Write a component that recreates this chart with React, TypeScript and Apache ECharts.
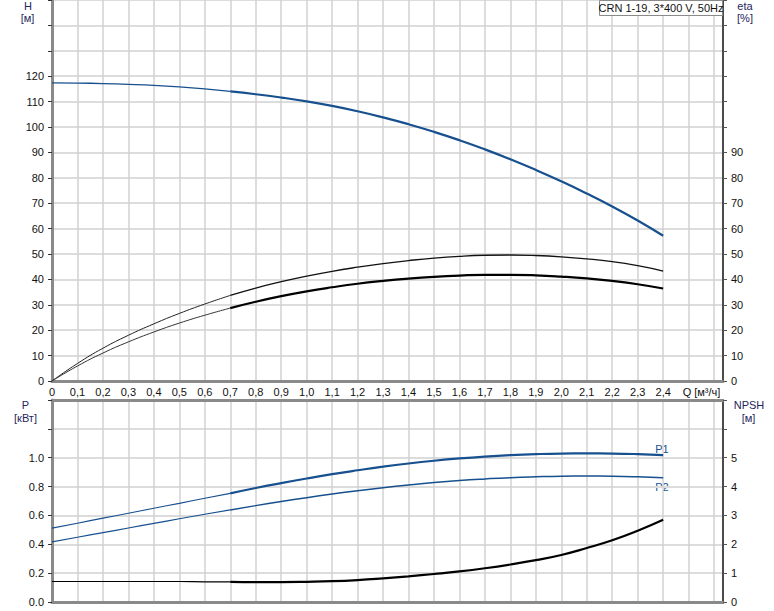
import React, { useEffect, useRef } from "react";
import * as echarts from "echarts";

// Flow (m³/h) – thin section and thick (working) section
const Q_A = [0, 0.1, 0.2, 0.3, 0.4, 0.5, 0.6, 0.7];
const Q_B = [0.7, 0.8, 0.9, 1.0, 1.1, 1.2, 1.3, 1.4, 1.5, 1.6, 1.7, 1.8, 1.9, 2.0, 2.1, 2.2, 2.3, 2.4];

// Head H [m]
const H_A = [117.4, 117.3, 117.1, 116.8, 116.4, 115.8, 115.0, 114.0];
const H_B = [114.0, 112.9, 111.6, 110.1, 108.3, 106.2, 103.8, 101.1, 98.1, 94.8, 91.2, 87.3, 83.1, 78.6, 73.8, 68.7, 63.2, 57.2];

// Efficiency eta [%] (upper and lower curve)
const ETA1_A = [0, 6.9, 12.9, 18.0, 22.5, 26.6, 30.3, 33.7];
const ETA1_B = [33.7, 36.6, 39.1, 41.3, 43.2, 44.8, 46.2, 47.4, 48.4, 49.1, 49.5, 49.6, 49.4, 48.9, 48.1, 47.0, 45.4, 43.3];
const ETA2_A = [0, 5.9, 11.0, 15.4, 19.3, 22.8, 25.9, 28.7];
const ETA2_B = [28.7, 31.2, 33.4, 35.3, 36.9, 38.3, 39.4, 40.3, 41.0, 41.5, 41.8, 41.8, 41.6, 41.1, 40.4, 39.4, 38.1, 36.4];

// Power P [kW]
const P1_A = [0.512, 0.546, 0.581, 0.615, 0.65, 0.684, 0.719, 0.753];
const P1_B = [0.753, 0.79, 0.824, 0.856, 0.886, 0.913, 0.938, 0.96, 0.979, 0.995, 1.008, 1.018, 1.025, 1.029, 1.03, 1.029, 1.025, 1.018];
const P2_A = [0.417, 0.449, 0.481, 0.513, 0.545, 0.577, 0.608, 0.638];
const P2_B = [0.638, 0.668, 0.696, 0.723, 0.748, 0.771, 0.792, 0.811, 0.828, 0.842, 0.853, 0.862, 0.868, 0.872, 0.873, 0.872, 0.868, 0.861];

// NPSH [m]
const NPSH_A = [0.71, 0.71, 0.71, 0.71, 0.71, 0.71, 0.7, 0.7];
const NPSH_B = [0.7, 0.69, 0.69, 0.7, 0.72, 0.76, 0.82, 0.89, 0.97, 1.06, 1.17, 1.3, 1.45, 1.63, 1.87, 2.14, 2.47, 2.85];

const TITLE = "CRN 1-19, 3*400 V, 50Hz";
const X_MAX_LABEL = 2.4;
const H_MAX_LABEL = 120;
const ETA_MAX_LABEL = 90;
const P_MAX_LABEL = 1.0;
const NPSH_MAX_LABEL = 5;

const FONT = "'Liberation Sans', Arial, sans-serif";
const BLUE = "#17508e";
const UNIT_COLOR = "#26265e";

const zip = (xs: number[], ys: number[]) => xs.map((x, i) => [x, ys[i]]);

export default function App() {
  const ref = useRef<HTMLDivElement>(null);

  useEffect(() => {
    if (!ref.current) return;
    const chart = echarts.init(ref.current, null, { renderer: "svg" });

    const gridV = { show: true, lineStyle: { color: "#d2d2d2", width: 1.5 } };
    const gridH = { show: true, lineStyle: { color: "#dcdcdc", width: 2 } };
    const grayAxis = { show: true, onZero: false, lineStyle: { color: "#8a8a8a", width: 3 } };
    const blackAxis = { show: true, onZero: false, lineStyle: { color: "#1a1a1a", width: 1.5 } };
    const lbl = { fontFamily: FONT, fontSize: 11, color: "#111" };

    const xFmt = (v: number) => {
      if (v > X_MAX_LABEL + 0.01) return "";
      if (Math.abs(v) < 1e-9) return "0";
      return v.toFixed(1).replace(".", ",");
    };

    const line = (
      name: string,
      x: number,
      y: number,
      q: number[],
      vals: number[],
      color: string,
      width: number
    ) => ({
      name,
      type: "line",
      xAxisIndex: x,
      yAxisIndex: y,
      data: zip(q, vals),
      smooth: 0.5,
      showSymbol: false,
      symbol: "none",
      lineStyle: { color, width },
      silent: true,
    });

    const txt = (x: number, y: number, text: string, fill: string) => ({
      type: "text",
      x,
      y,
      style: { text, fontFamily: FONT, fontSize: 11, fill, align: "center", verticalAlign: "middle" },
    });

    chart.setOption({
      animation: false,
      textStyle: { fontFamily: FONT },
      grid: [
        { left: 52, right: 51, top: 0, height: 381 },
        { left: 52, right: 51, top: 400, height: 202 },
      ],
      xAxis: [
        {
          type: "value",
          gridIndex: 0,
          min: 0,
          max: 2.635,
          interval: 0.1,
          axisLine: grayAxis,
          axisTick: { show: false },
          axisLabel: { ...lbl, margin: 5, formatter: xFmt, showMaxLabel: false },
          splitLine: gridV,
        },
        {
          type: "value",
          gridIndex: 1,
          min: 0,
          max: 2.635,
          interval: 0.1,
          axisLine: grayAxis,
          axisTick: { show: false },
          axisLabel: { show: false },
          splitLine: gridV,
        },
        {
          type: "value",
          gridIndex: 1,
          position: "top",
          min: 0,
          max: 2.635,
          interval: 0.1,
          axisLine: grayAxis,
          axisTick: { show: false },
          axisLabel: { show: false },
          splitLine: { show: false },
        },
      ],
      yAxis: [
        {
          type: "value",
          gridIndex: 0,
          position: "left",
          min: 0,
          max: 150,
          interval: 10,
          axisLine: grayAxis,
          axisTick: { show: true, length: 4, lineStyle: { color: "#333" } },
          axisLabel: { ...lbl, margin: 8, formatter: (v: number) => (v <= H_MAX_LABEL ? String(v) : "") },
          splitLine: gridH,
        },
        {
          type: "value",
          gridIndex: 0,
          position: "right",
          min: 0,
          max: 150,
          interval: 10,
          axisLine: blackAxis,
          axisTick: { show: true, length: 4, lineStyle: { color: "#555" } },
          axisLabel: { ...lbl, margin: 8, formatter: (v: number) => (v <= ETA_MAX_LABEL ? String(v) : "") },
          splitLine: { show: false },
        },
        {
          type: "value",
          gridIndex: 1,
          position: "left",
          min: 0,
          max: 1.4,
          interval: 0.2,
          axisLine: grayAxis,
          axisTick: { show: true, length: 4, lineStyle: { color: "#333" } },
          axisLabel: {
            ...lbl,
            margin: 8,
            formatter: (v: number) => (v <= P_MAX_LABEL + 0.01 ? v.toFixed(1) : ""),
          },
          splitLine: gridH,
        },
        {
          type: "value",
          gridIndex: 1,
          position: "right",
          min: 0,
          max: 7,
          interval: 1,
          axisLine: blackAxis,
          axisTick: { show: true, length: 4, lineStyle: { color: "#555" } },
          axisLabel: { ...lbl, margin: 8, formatter: (v: number) => (v <= NPSH_MAX_LABEL ? String(v) : "") },
          splitLine: { show: false },
        },
      ],
      series: [
        line("H thin", 0, 0, Q_A, H_A, BLUE, 1.3),
        line("H", 0, 0, Q_B, H_B, BLUE, 2.2),
        line("eta1 thin", 0, 1, Q_A, ETA1_A, "#222", 1),
        line("eta1", 0, 1, Q_B, ETA1_B, "#111", 1.3),
        line("eta2 thin", 0, 1, Q_A, ETA2_A, "#333", 1),
        line("eta2", 0, 1, Q_B, ETA2_B, "#000", 2.2),
        line("P1 thin", 1, 2, Q_A, P1_A, BLUE, 1.2),
        line("P1", 1, 2, Q_B, P1_B, BLUE, 2.2),
        line("P2 thin", 1, 2, Q_A, P2_A, BLUE, 1.2),
        line("P2", 1, 2, Q_B, P2_B, BLUE, 1.5),
        line("NPSH thin", 1, 3, Q_A, NPSH_A, "#000", 1.2),
        line("NPSH", 1, 3, Q_B, NPSH_B, "#000", 2.2),
      ],
      graphic: [
        {
          type: "rect",
          shape: { x: 599.5, y: 0.5, width: 123, height: 15 },
          style: { fill: "#fff", stroke: "#8a8a8a", lineWidth: 1 },
          z: 100,
        },
        {
          type: "text",
          x: 661,
          y: 8,
          style: { text: TITLE, fontFamily: FONT, fontSize: 11, fill: "#111", align: "center", verticalAlign: "middle" },
          z: 101,
        },
        txt(28, 6, "H", UNIT_COLOR),
        txt(27.5, 18, "[м]", UNIT_COLOR),
        txt(745, 6, "eta", UNIT_COLOR),
        txt(745, 18, "[%]", UNIT_COLOR),
        txt(25.5, 405, "P", UNIT_COLOR),
        txt(25.5, 417.5, "[кВт]", UNIT_COLOR),
        txt(749, 405, "NPSH", UNIT_COLOR),
        txt(748.5, 417.5, "[м]", UNIT_COLOR),
        txt(701.5, 392, "Q [м³/ч]", "#111"),
        txt(662, 449, "P1", BLUE),
        txt(662, 487, "P2", BLUE),
      ],
    });

    return () => chart.dispose();
  }, []);

  return (
    <div
      ref={ref}
      style={{ position: "fixed", left: 0, top: 0, width: 774, height: 611, background: "#fff" }}
    />
  );
}
